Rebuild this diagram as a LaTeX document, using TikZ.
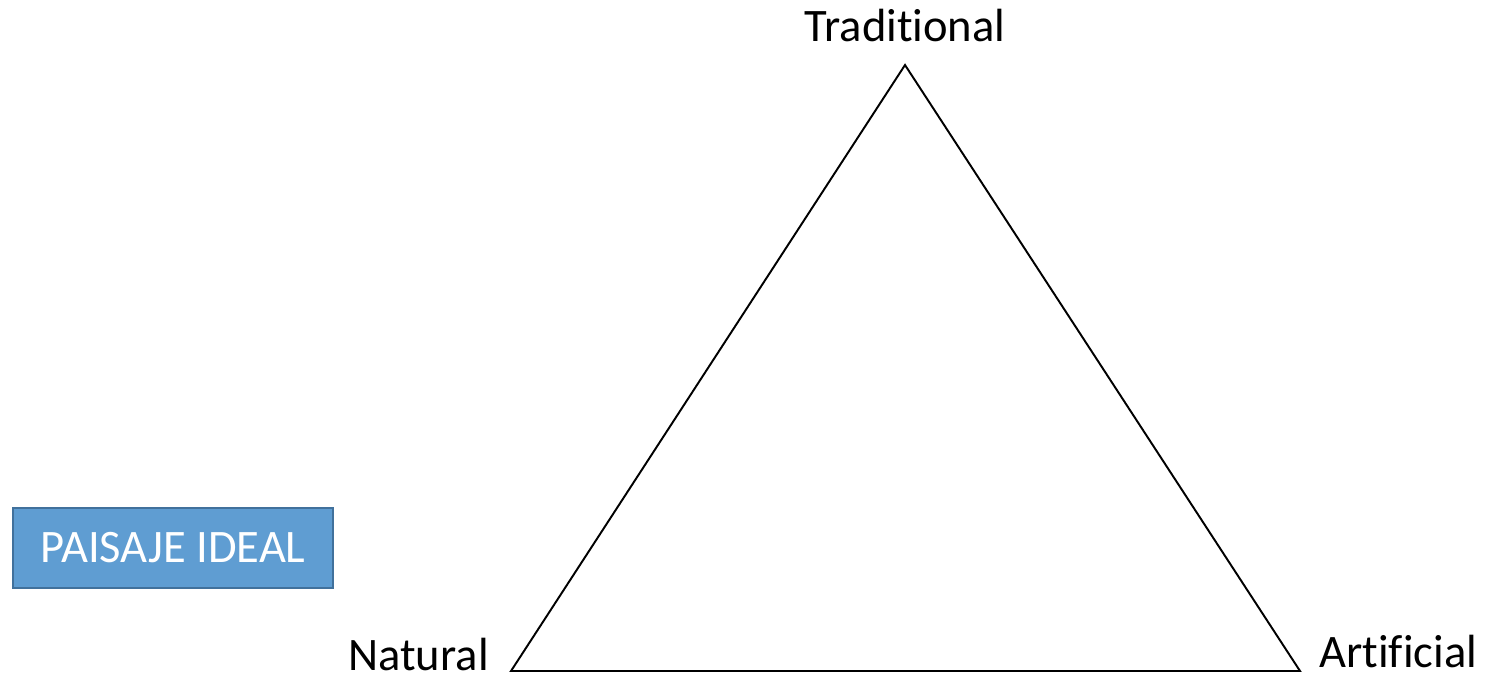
\documentclass[tikz,border=0pt]{standalone}
\usepackage{fontspec}
\setmainfont{Carlito}[Ligatures={NoCommon}]
\definecolor{boxfill}{HTML}{5F9DD2}
\definecolor{boxline}{HTML}{41719C}
\begin{document}
\begin{tikzpicture}[x=0.02cm, y=-0.02cm,
                    label node/.style={inner sep=0pt, font=\fontsize{26.5}{30}\selectfont},
                    ideal box/.style={draw=boxline, line width=1.2pt, fill=boxfill, text=white,
                                      minimum width=6.4cm, minimum height=1.6cm, inner sep=0pt,
                                      font=\fontsize{26.5}{30}\selectfont}]
  \useasboundingbox (0,0) rectangle (1486,677);

  % corners of the triangle
  \coordinate (top) at (905,65);
  \coordinate (left) at (511,671);
  \coordinate (right) at (1300,671);

  \node[label node, anchor=base] (trad) at (905,41) {Traditional};
  \node[label node, anchor=base east] (nat) at (489,670) {Natural};
  \node[label node, anchor=base west] (art) at (1319,667) {Artificial};

  \node[ideal box] (ideal) at (173,548) {PAISAJE IDEAL};

  \draw[line width=1.1pt, line join=miter] (top) -- (left) -- (right) -- cycle;
\end{tikzpicture}
\end{document}
